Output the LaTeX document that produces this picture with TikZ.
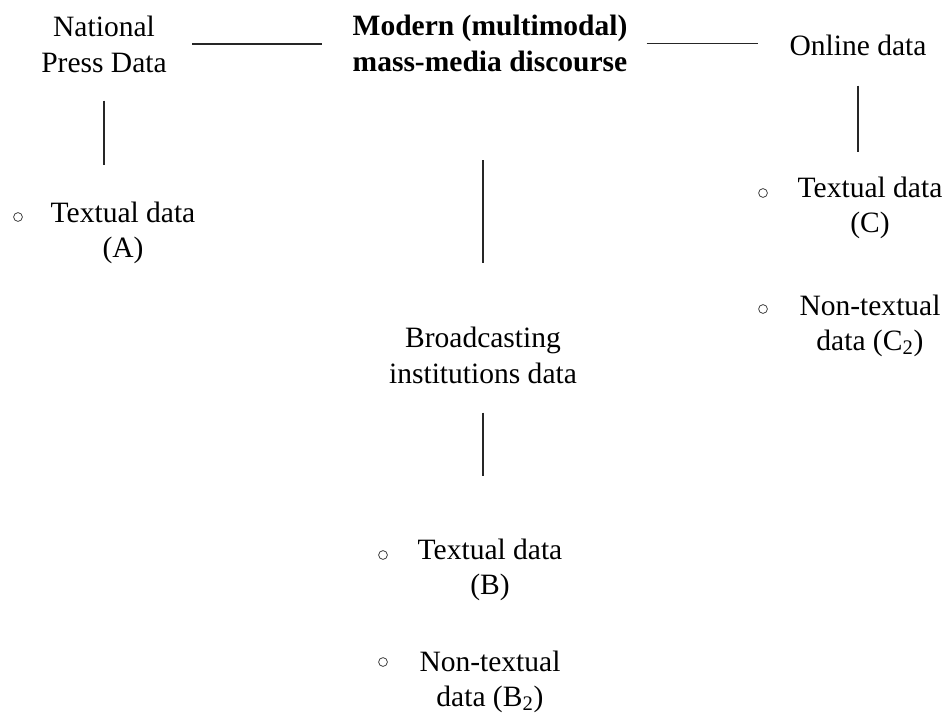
\documentclass[tikz,border=0pt]{standalone}
\usepackage{fontspec}
\setmainfont{Liberation Serif}
\usetikzlibrary{positioning}
\tikzstyle{source} = [align=center, inner sep=0pt, font=\fontsize{16.8}{20.5}\selectfont]
\tikzstyle{topic} = [source, font=\fontsize{16.8}{20.5}\selectfont\bfseries]
\tikzstyle{entry} = [source, font=\fontsize{16.8}{19.5}\selectfont]
\tikzstyle{bullet} = [circle, draw=black!75, line width=0.45pt, inner sep=0pt, minimum size=5pt]
\tikzstyle{link} = [draw=black!85, line width=0.9pt]
\newcommand{\branch}[3][]{ %
  % Drop a line from node #2 straight down to node #3.
  \draw[link,#1] (#2.south) -- (#2.south |- #3.north) ;%
}

\begin{document}
\begin{tikzpicture}[x=0.02cm, y=-0.02cm]
  \useasboundingbox (0,0) rectangle (949,716);

  \node[topic] (main) at (490,43.5) {Modern (multimodal)\\mass-media discourse};
  \node[source] (press) at (104,44) {National\\Press Data};
  \node[source] (online) at (858,45) {Online data};
  \node[source] (broad) at (483,355) {Broadcasting\\institutions data};

  \node[entry] (tA) at (123,233) {Textual data\\(A)};
  \node[entry] (tC) at (870,208) {Textual data\\(C)};
  \node[entry] (nC) at (870,326) {Non-textual\\data (C\textsubscript{2})};
  \node[entry] (tB) at (490,570) {Textual data\\(B)};
  \node[entry] (nB) at (490,682) {Non-textual\\data (B\textsubscript{2})};

  \node[bullet] (bA) at (18,217) {};
  \node[bullet] (bC) at (763,193) {};
  \node[bullet] (bC2) at (763,309) {};
  \node[bullet] (bB) at (383,555) {};
  \node[bullet] (bB2) at (383,662) {};

  \draw[link, shorten <=0.5cm, shorten >=0.6cm] (press.east) -- (press.east -| main.west);
  \draw[link, shorten <=0.38cm, shorten >=0.62cm] (main.east) -- (main.east -| online.west);

  \branch[shorten <=0.56cm, shorten >=0.75cm] {press} {tA};
  \branch[shorten <=0.6cm, shorten >=0.5cm, xshift=0.06cm] {online} {tC};
  \draw[link, shorten <=1.76cm, shorten >=1.27cm] (main.south -| broad.north) -- (broad.north);
  \branch[shorten <=0.58cm, shorten >=1.26cm] {broad} {tB};
\end{tikzpicture}
\end{document}
